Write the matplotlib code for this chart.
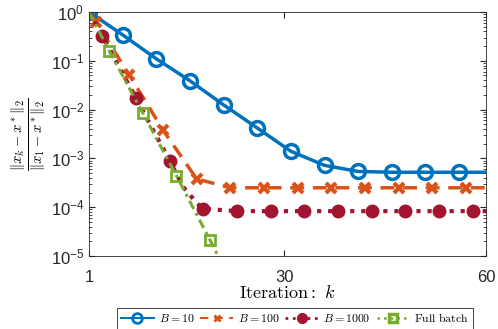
import math
import matplotlib
matplotlib.use('Agg')
import matplotlib.pyplot as plt
from matplotlib.lines import Line2D
from matplotlib.ticker import FixedLocator, FuncFormatter, LogLocator, NullFormatter

# values (iteration k, relative error)
k_b10 = [1, 6, 11, 16, 21, 26, 31, 36, 41, 46, 51, 56, 60]
e_b10 = [1.0, 0.34, 0.11, 0.039, 0.0125, 0.0042, 0.0014, 7.2e-4, 5.4e-4, 5.2e-4, 5.2e-4, 5.2e-4, 5.2e-4]

k_b100 = [1, 2, 7, 12, 17, 22, 27, 32, 37, 42, 47, 52, 57, 60]
e_b100 = [1.0, 0.63, 0.051, 0.0038, 3.8e-4, 2.5e-4, 2.5e-4, 2.5e-4, 2.5e-4, 2.5e-4, 2.5e-4, 2.5e-4, 2.5e-4, 2.5e-4]

k_b1000 = [1, 3, 8, 13, 15, 16, 17, 18, 23, 28, 33, 38, 43, 48, 53, 58, 60]
e_b1000 = [1.0, 0.32, 0.017, 8.9e-4, 2.6e-4, 1.8e-4, 1.2e-4, 9.3e-5, 8.3e-5, 8.3e-5, 8.3e-5, 8.3e-5,
           8.3e-5, 8.3e-5, 8.3e-5, 8.3e-5, 8.3e-5]

k_full = [1, 4, 9, 14, 19, 21]
e_full = [1.0, 0.16, 0.0085, 4.4e-4, 2.1e-5, 6e-6]

labels = [r'$B = 10$', r'$B = 100$', r'$B = 1000$', r'$\mathrm{Full\ batch}$']

plt.rcParams['mathtext.fontset'] = 'custom'
plt.rcParams['mathtext.rm'] = 'Liberation Sans'
plt.rcParams['mathtext.it'] = 'Liberation Sans:italic'
plt.rcParams['font.family'] = 'Liberation Sans'

fig = plt.figure(figsize=(4.98, 3.29), dpi=100)
ax = fig.add_axes([0.1787, 0.2219, 0.976 - 0.1787, 0.9635 - 0.2219])

c_blue = '#0072BD'
c_orange = '#D95319'
c_red = '#A2142F'
c_green = '#77AC30'

ax.plot(k_b10, e_b10, '-', color=c_blue, lw=2.5, marker='o', ms=10, mfc='none', mew=2.5,
        markevery=list(range(12)))
ax.plot(k_b100, e_b100, '--', color=c_orange, lw=2.5, dashes=(4, 2.5), marker='x', ms=7, mew=3,
        markevery=list(range(1, 13)))
ax.plot(k_b1000, e_b1000, ':', color=c_red, lw=3, marker='o', ms=9, mfc=c_red,
        markevery=[1, 2, 3, 7, 8, 9, 10, 11, 12, 13, 14, 15])
ax.plot(k_full, e_full, '-.', color=c_green, lw=2.2, dashes=(3, 1.5, 1, 1.5), marker='s', ms=7,
        mfc='none', mew=2, markevery=[1, 2, 3, 4])

ax.set_yscale('log')
ax.set_xlim(1, 60)
ax.set_ylim(1e-5, 1)
ax.xaxis.set_major_locator(FixedLocator([1, 30, 60]))
ax.yaxis.set_major_locator(LogLocator(base=10, numticks=10))
ax.yaxis.set_minor_locator(LogLocator(base=10, subs=range(2, 10), numticks=10))
ax.yaxis.set_minor_formatter(NullFormatter())
ax.yaxis.set_major_formatter(FuncFormatter(lambda v, p: r'$\mathregular{10^{%d}}$' % round(math.log10(v))))

ax.tick_params(which='both', direction='in', top=True, right=True, color='#262626', labelsize=12,
               labelcolor='#262626')
ax.tick_params(which='major', length=4)
ax.tick_params(which='minor', length=2)
ax.tick_params(axis='x', pad=10)
for s in ax.spines.values():
    s.set_color('#262626')
    s.set_linewidth(0.6)

ax.set_xlabel(r'$\mathrm{Iteration{:}}\ k$', fontsize=13, math_fontfamily='cm', labelpad=0)
ax.set_ylabel(r'$\frac{\|x_k - x^*\|_2}{\|x_1 - x^*\|_2}$', fontsize=15, math_fontfamily='cm', labelpad=2)

# legend proxies with smaller markers, like the reference
handles = [
    Line2D([], [], color=c_blue, lw=1.5, marker='o', ms=7, mfc='none', mew=2),
    Line2D([], [], color=c_orange, lw=1.5, ls='--', dashes=(4, 3), marker='x', ms=5, mew=2),
    Line2D([], [], color=c_red, lw=2, ls=':', marker='o', ms=7, mfc=c_red),
    Line2D([], [], color=c_green, lw=1.8, ls=':', marker='s', ms=6, mfc='none', mew=2.5),
]
leg = ax.legend(handles, labels, loc='center', bbox_to_anchor=(295 / 498, 1 - 318.5 / 329),
                bbox_transform=fig.transFigure, ncol=4, handlelength=2.8, columnspacing=0.5,
                handletextpad=0.4, borderpad=0.3, borderaxespad=0, fancybox=False, framealpha=1,
                edgecolor='#262626', prop={'size': 8.5, 'math_fontfamily': 'cm'})
leg.get_frame().set_linewidth(0.6)

fig.savefig('out.png', dpi=100)
